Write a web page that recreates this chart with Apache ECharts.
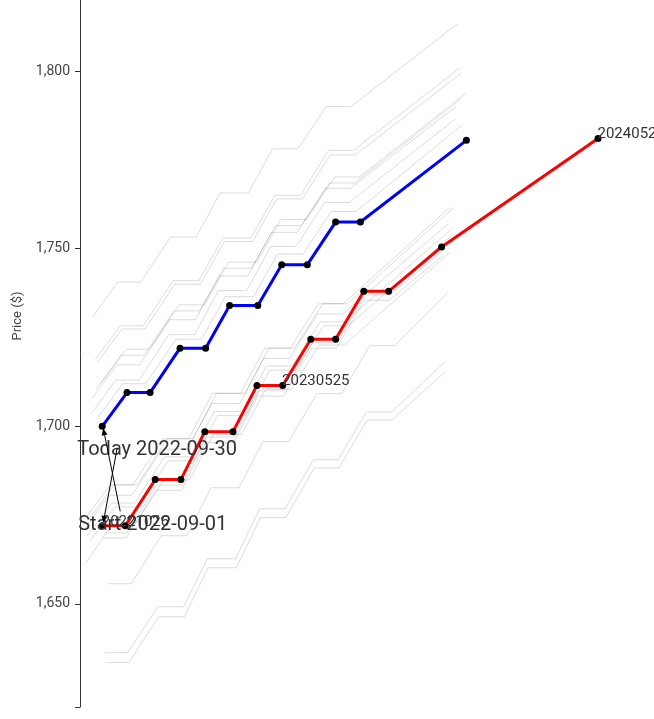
<!DOCTYPE html>
<html><head><meta charset="utf-8">
<script src="https://cdn.jsdelivr.net/npm/echarts@6/dist/echarts.min.js"></script>
<style>html,body{margin:0;padding:0;background:#fff}#c{width:654px;height:719px}</style>
</head><body><div id="c"></div>
<script>
// Option expiry dates (x = days from curve date to expiry)
const expiries = ['2022-09-27','2022-10-26','2022-11-22','2022-12-27','2023-01-26','2023-02-23','2023-03-28','2023-04-25','2023-05-25','2023-06-27','2023-07-26','2023-08-28','2023-09-26','2023-11-27','2024-05-28'];
const startDate = '2022-09-01';
const todayDate = '2022-09-30';
const startPrices = [1700, 1709.5, 1709.5, 1722, 1722, 1734, 1734, 1745.5, 1745.5, 1757.5, 1757.5, null, null, 1780.5, null];
const todayPrices = [null, 1672, 1672, 1685, 1685, 1698.5, 1698.5, 1711.5, 1711.5, 1724.5, 1724.5, 1738, 1738, 1750.5, 1781];
const labelledIdx = [0, 7, 13];
const yTicks = [1650, 1700, 1750, 1800];

// Intermediate daily curves (grey)
const g0902 = [1712.2, 1721.7, 1721.7, 1734.2, 1734.2, 1746.2, 1746.2, 1758.2, 1758.2, 1770.2, 1770.2, null, null, 1793.7, null];
const g0906 = [1702.5, 1712, 1712, 1724.5, 1724.5, 1736.5, 1736.5, 1748.5, 1748.5, 1760.5, 1760.5, null, null, 1784.8, null];
const g0907 = [1718, 1727.4, 1727.4, 1740, 1740, 1752, 1752, 1764, 1764, 1776.4, 1776.4, null, null, 1799.4, null];
const g0908 = [1710.5, 1720, 1720, 1732.5, 1732.5, 1744.5, 1744.5, 1756.5, 1756.5, 1768.5, 1768.5, null, null, 1792, null];
const g0909 = [1718.8, 1728.3, 1728.3, 1741, 1741, 1753, 1753, 1765, 1765, 1777.7, 1777.7, null, null, 1800.8, null];
const g0912 = [1730.8, 1740.6, 1740.6, 1753.3, 1753.3, 1765.7, 1765.7, 1778.1, 1778.1, 1790, 1790, null, null, 1813.2, null];
const g0913 = [1707.8, 1717.3, 1717.3, 1730, 1730, 1742.3, 1742.3, 1754.6, 1754.6, 1767, 1767, null, null, 1790, null];
const g0914 = [1703.5, 1713, 1713, 1725.8, 1725.8, 1738.2, 1738.2, 1750.6, 1750.6, 1763, 1763, null, null, 1786.5, null];
const g0915 = [1667.8, 1677.3, 1677.3, 1690.3, 1690.3, 1703.1, 1703.1, 1715.8, 1715.8, 1728.3, 1728.3, null, null, 1754.3, null];
const g0916 = [1674, 1683.5, 1683.5, 1696.5, 1696.5, 1709.3, 1709.3, 1722, 1722, 1734.5, 1734.5, null, null, 1761.5, null];
const g0919 = [1669, 1678.4, 1678.4, 1691.4, 1691.4, 1704.2, 1704.2, 1717, 1717, 1729.4, 1729.4, null, null, 1755.4, null];
const g0920 = [1661.6, 1671.9, 1671.9, 1684.9, 1684.9, 1697.7, 1697.7, 1710.4, 1710.4, 1722.9, 1722.9, null, null, 1749, null];
const g0921 = [1674, 1683.5, 1683.5, 1696.5, 1696.5, 1709.3, 1709.3, 1722, 1722, 1734.5, 1734.5, null, null, 1761.5, null];
const g0922 = [1671, 1680.6, 1680.6, 1693.6, 1693.6, 1706.4, 1706.4, 1719.1, 1719.1, 1731.6, 1731.6, null, null, 1757, null];
const g0923 = [null, 1655.7, 1655.7, 1669.2, 1669.2, 1682.7, 1682.7, 1695.7, 1695.7, 1709.2, 1709.2, 1722.7, 1722.7, 1737.6, null];
const g0926 = [null, 1633.5, 1633.5, 1646.4, 1646.4, 1660.2, 1660.2, 1674.3, 1674.3, 1688.3, 1688.3, 1701.8, 1701.8, 1715.3, null];
const g0927 = [null, 1636.3, 1636.3, 1649.2, 1649.2, 1662.7, 1662.7, 1676.8, 1676.8, 1690.6, 1690.6, 1704, 1704, 1717.9, null];
const g0928 = [null, 1670, 1670, 1683.5, 1683.5, 1697, 1697, 1710, 1710, 1723.5, 1723.5, 1737, 1737, 1749.5, null];
const g0929 = [null, 1668.6, 1668.6, 1682, 1682, 1695.5, 1695.5, 1708.5, 1708.5, 1722, 1722, 1735.5, 1735.5, 1748, null];
const greyCurves = [
  ['2022-09-02', g0902], ['2022-09-06', g0906], ['2022-09-07', g0907], ['2022-09-08', g0908],
  ['2022-09-09', g0909], ['2022-09-12', g0912], ['2022-09-13', g0913], ['2022-09-14', g0914],
  ['2022-09-15', g0915], ['2022-09-16', g0916], ['2022-09-19', g0919], ['2022-09-20', g0920],
  ['2022-09-21', g0921], ['2022-09-22', g0922], ['2022-09-23', g0923], ['2022-09-26', g0926],
  ['2022-09-27', g0927], ['2022-09-28', g0928], ['2022-09-29', g0929]
];

const DAY = 864e5;
function curvePoints(date, prices) {
  const out = [];
  prices.forEach((p, i) => {
    const d = Math.round((Date.parse(expiries[i]) - Date.parse(date)) / DAY);
    if (p != null && d > 0) out.push({ value: [d, p], exp: expiries[i], idx: i });
  });
  return out;
}
const maxDays = Math.round((Date.parse(expiries[expiries.length - 1]) - Date.parse(todayDate)) / DAY);

const font = 'Roboto, "DejaVu Sans", sans-serif';
const series = [];
greyCurves.forEach(([d, arr]) => {
  series.push({
    type: 'line', data: curvePoints(d, arr), showSymbol: false, silent: true,
    lineStyle: { color: 'rgba(0,0,0,0.14)', width: 1 }, z: 1
  });
});
const startPts = curvePoints(startDate, startPrices);
const todayPts = curvePoints(todayDate, todayPrices);
series.push({
  type: 'line', data: startPts, symbol: 'circle', symbolSize: 7,
  itemStyle: { color: '#000' }, lineStyle: { color: '#0000ff', width: 3 }, z: 3
});
series.push({
  type: 'line', data: todayPts.map((p, k) => Object.assign({}, p, labelledIdx.includes(k) ? {
    label: { show: true, position: 'right', distance: 0, offset: [-4, -4], formatter: p.exp.replace(/-/g, ''),
      fontFamily: font, fontSize: 15, color: '#333' } } : {})),
  symbol: 'circle', symbolSize: 7,
  itemStyle: { color: '#000' }, lineStyle: { color: '#ff0000', width: 3 }, z: 4
});

const chart = echarts.init(document.getElementById('c'), null, { renderer: 'canvas' });
chart.setOption({
  animation: false,
  grid: { left: 80, right: 654 - 598, top: 0, bottom: 12, containLabel: false },
  xAxis: { type: 'value', min: 0, max: maxDays, show: false },
  yAxis: {
    type: 'value', min: 1621, max: 1820,
    axisLine: { show: true, lineStyle: { color: '#333', width: 1 } },
    axisTick: { show: true, length: 5, lineStyle: { color: '#333' }, customValues: [1621].concat(yTicks) },
    axisLabel: { customValues: yTicks, formatter: v => v.toLocaleString('en-US'), fontFamily: font, fontSize: 14, color: '#444', margin: 10 },
    splitLine: { show: false }
  },
  series: series
});

// Annotations
const s0 = chart.convertToPixel({ gridIndex: 0 }, startPts[0].value);
const t0 = chart.convertToPixel({ gridIndex: 0 }, todayPts[0].value);
function arrow(from, to) {
  const ang = Math.atan2(to[1] - from[1], to[0] - from[0]);
  const L = 7, W = 3;
  const bx = to[0] - L * Math.cos(ang), by = to[1] - L * Math.sin(ang);
  const px = -Math.sin(ang) * W, py = Math.cos(ang) * W;
  return [
    { type: 'line', shape: { x1: from[0], y1: from[1], x2: bx, y2: by }, style: { stroke: '#000', lineWidth: 1 }, z: 10 },
    { type: 'polygon', shape: { points: [[to[0], to[1]], [bx + px, by + py], [bx - px, by - py]] }, style: { fill: '#000' }, z: 10 }
  ];
}
const gfx = [];
gfx.push({ type: 'text', x: t0[0] - 25, y: t0[1] - 76, style: { text: 'Today ' + todayDate, font: '20px ' + font, fill: '#333', textVerticalAlign: 'middle' }, z: 9 });
gfx.push({ type: 'text', x: s0[0] - 24, y: s0[1] + 99, style: { text: 'Start ' + startDate, font: '20px ' + font, fill: '#333', textVerticalAlign: 'middle' }, z: 9 });
gfx.push(...arrow([t0[0] + 15, t0[1] - 78], [t0[0] + 1, t0[1] - 3]));
gfx.push(...arrow([s0[0] + 18, s0[1] + 85], [s0[0] + 1, s0[1] + 2]));
gfx.push({ type: 'text', x: 18, y: 316, rotation: Math.PI / 2, style: { text: 'Price ($)', font: '13px ' + font, fill: '#444', textAlign: 'center', textVerticalAlign: 'middle' }, z: 9 });
chart.setOption({ graphic: gfx });
</script>
</body></html>
